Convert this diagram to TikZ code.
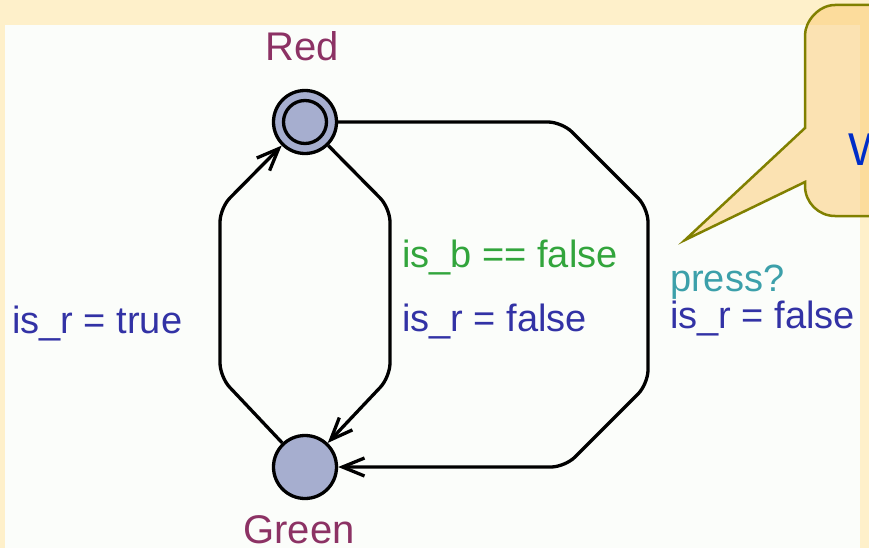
\documentclass[tikz,border=0pt]{standalone}
\usepackage{fontspec}
\setmainfont{Liberation Sans}
\usetikzlibrary{arrows.meta}
\definecolor{cream}{RGB}{254,240,202}
\definecolor{canvas}{RGB}{251,253,250}
\definecolor{locfill}{RGB}{166,174,207}
\definecolor{locname}{RGB}{140,50,100}
\definecolor{assign}{RGB}{50,50,165}
\definecolor{guard}{RGB}{50,165,60}
\definecolor{sync}{RGB}{60,160,170}
\definecolor{notefill}{RGB}{252,205,120}
\definecolor{noteline}{RGB}{128,128,0}
\definecolor{notetext}{RGB}{0,45,200}

\begin{document}
\begin{tikzpicture}[x=1pt, y=-1pt, >={Straight Barb[length=22pt,width=18pt]},
  loc/.style={circle, draw, line width=3.3pt, fill=locfill, minimum size=63pt, inner sep=0pt},
  locname/.style={text=locname, font=\fontsize{40}{40}\selectfont, anchor=base, inner sep=0pt},
  lbl/.style={font=\fontsize{38}{38}\selectfont, anchor=base west, inner sep=0pt},
  edge/.style={draw, line width=3.3pt, rounded corners=14pt, ->}]
  \useasboundingbox (0,0) rectangle (869,548);
  \clip (0,0) rectangle (869,548);
  \fill[cream] (0,0) rectangle (869,548);
  \fill[canvas] (5,25) rectangle (860,548);

  \node[loc] (red) at (305,122) {};
  \draw[line width=3.3pt] (red.center) circle (21.5pt);
  \node[loc] (green) at (305,467) {};
  \node[locname] (redname) at (302,61) {Red};
  \node[locname] (greenname) at (299,543) {Green};

  \coordinate (l1) at (220,377); \coordinate (l2) at (220,208);
  \coordinate (r1) at (390,208); \coordinate (r2) at (390,377);
  \coordinate (o1) at (562,122); \coordinate (o2) at (648,208);
  \coordinate (o3) at (648,384); \coordinate (o4) at (565,467);
  \draw[edge] (green) -- (l1) -- (l2) -- (red);
  \draw[edge] (red) -- (r1) -- (r2) -- (green);
  \draw[edge] (red) -- (o1) -- (o2) -- (o3) -- (o4) -- (green);

  \node[lbl, text=assign] (setr) at (12,333) {is\_r = true};
  \node[lbl, text=guard] (isb) at (402,267) {is\_b == false};
  \node[lbl, text=assign] (clrr) at (402,331) {is\_r = false};
  \node[lbl, text=sync] (press) at (670,291) {press?};
  \node[lbl, text=assign] (clrr2) at (670,328) {is\_r = false};

  \draw[line width=2.5pt, draw=noteline, fill=notefill, fill opacity=0.55]
    (805,128) -- (685,240) -- (805,182) -- (805,186)
    .. controls (805,202.5) and (818.5,216) .. (835,216) -- (900,216) -- (900,5) -- (835,5)
    .. controls (818.5,5) and (805,21.5) .. (805,35) -- cycle;
  \node[anchor=base west, inner sep=0pt, text=notetext, font=\fontsize{46}{46}\selectfont] (note) at (848,165) {W};
\end{tikzpicture}
\end{document}
